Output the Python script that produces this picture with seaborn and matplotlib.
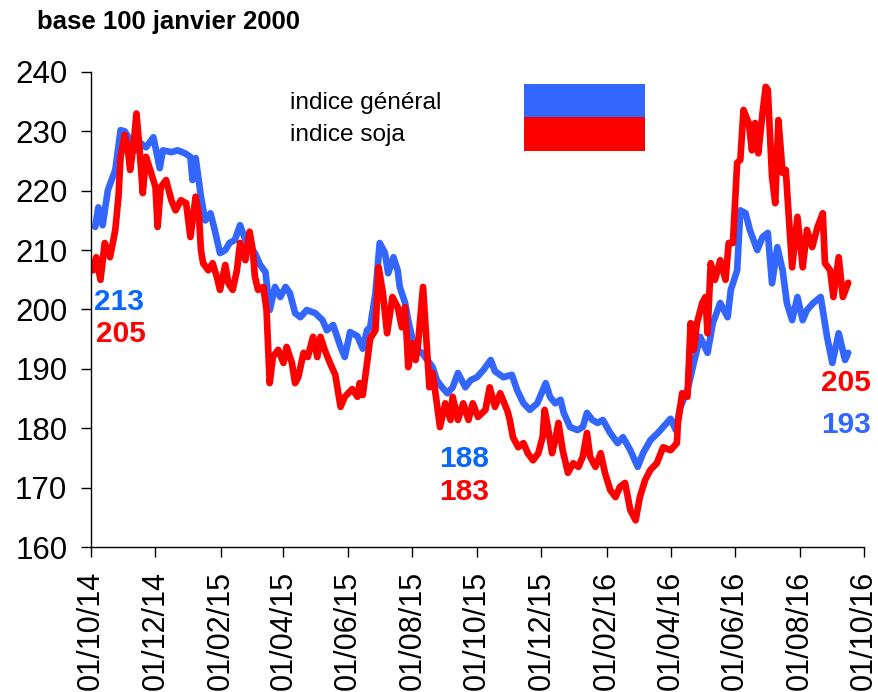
#!/usr/bin/env python3
import matplotlib
matplotlib.use("Agg")
import matplotlib.pyplot as plt
import matplotlib.dates as mdates
from matplotlib.patches import Rectangle
import seaborn as sns
import pandas as pd

# days since 01/10/2014 and index values (base 100 janvier 2000)
gen_days = [4, 7, 11, 16, 23, 28, 32, 37, 42, 47, 52, 59, 61, 65, 68, 76, 82, 89, 94, 96,
            99, 104, 108, 113, 117, 122, 127, 131, 136, 141, 146, 150, 155, 160, 165, 169,
            174, 179, 184, 188, 193, 198, 204, 212, 219, 223, 229, 236, 240, 245, 252, 257,
            261, 264, 269, 273, 278, 281, 286, 290, 292, 297, 300, 304, 308, 313, 318, 323,
            327, 332, 337, 342, 347, 354, 359, 365, 371, 378, 382, 390, 398, 403, 409, 415,
            422, 430, 434, 439, 444, 447, 453, 460, 465, 469, 474, 479, 484, 491, 498, 503,
            510, 517, 522, 529, 536, 541, 548, 553, 557, 564, 570, 576, 583, 588, 595, 602,
            605, 611, 614, 619, 623, 630, 635, 640, 644, 649, 654, 658, 663, 668, 673, 677,
            683, 690, 696, 701, 707, 713, 716]
gen_vals = [213.9, 217.2, 214.2, 220.1, 223.5, 230.2, 230.0, 228.5, 226.8, 228.0, 227.3,
            229.0, 227.3, 223.8, 226.8, 226.5, 226.8, 226.3, 225.7, 221.8, 225.5, 219.0,
            215.0, 216.2, 213.4, 209.5, 210.0, 211.2, 211.7, 214.2, 211.7, 210.5, 209.5,
            207.5, 206.3, 199.9, 203.8, 202.1, 203.8, 202.8, 199.4, 198.7, 199.9, 199.4,
            198.2, 196.5, 197.4, 193.7, 192.0, 196.2, 195.5, 193.4, 196.5, 197.0, 202.8,
            211.2, 209.5, 206.1, 208.8, 206.6, 203.8, 201.1, 198.2, 194.9, 193.2, 192.7,
            191.5, 190.3, 188.1, 186.9, 185.9, 186.9, 189.3, 186.9, 188.1, 188.6, 189.8,
            191.5, 189.6, 188.6, 189.0, 186.4, 184.2, 183.1, 184.2, 187.6, 185.3, 184.2,
            184.8, 182.6, 180.2, 179.7, 180.2, 182.6, 181.4, 180.9, 181.4, 179.2, 177.5,
            178.5, 176.3, 173.5, 175.8, 178.0, 179.2, 180.2, 181.6, 179.7, 183.4, 186.4,
            191.0, 195.4, 192.7, 197.7, 201.1, 198.7, 203.3, 206.6, 216.7, 216.2, 213.4,
            210.0, 212.2, 212.9, 204.4, 210.5, 206.6, 201.1, 198.2, 202.1, 198.2, 199.9,
            201.1, 202.1, 195.4, 191.0, 196.0, 191.5, 192.7]

soja_days = [2, 5, 9, 13, 18, 23, 26, 28, 32, 35, 37, 40, 43, 46, 49, 52, 56, 61, 63, 66,
             71, 76, 80, 85, 90, 94, 99, 102, 104, 106, 111, 115, 119, 122, 127, 130, 134,
             138, 141, 146, 150, 153, 155, 158, 163, 166, 169, 172, 177, 182, 185, 190, 193,
             196, 201, 205, 210, 214, 217, 221, 226, 231, 236, 240, 247, 252, 254, 257, 261,
             264, 269, 272, 276, 280, 285, 290, 294, 297, 300, 304, 307, 309, 314, 318, 320,
             323, 325, 330, 335, 340, 342, 347, 352, 357, 361, 366, 373, 377, 382, 387, 394,
             396, 399, 404, 409, 413, 418, 423, 427, 429, 432, 436, 439, 442, 446, 451, 456,
             461, 465, 469, 472, 477, 482, 486, 491, 496, 500, 505, 510, 515, 519, 524, 529,
             535, 541, 548, 554, 555, 559, 564, 567, 570, 573, 578, 581, 583, 586, 590, 595,
             600, 603, 607, 611, 614, 617, 622, 625, 628, 631, 635, 638, 640, 644, 647, 650,
             654, 657, 659, 663, 668, 673, 677, 682, 687, 692, 694, 699, 702, 707, 711, 716]
soja_vals = [206.6, 208.8, 205.0, 211.2, 208.8, 213.4, 219.0, 225.7, 229.4, 226.8, 223.5,
             227.3, 233.0, 226.8, 219.6, 225.7, 223.5, 220.6, 213.9, 220.6, 221.8, 218.4,
             216.7, 218.4, 217.9, 212.2, 219.0, 216.0, 210.0, 207.8, 206.6, 207.8, 205.5,
             203.3, 207.5, 204.4, 203.3, 206.6, 211.2, 208.3, 213.1, 210.0, 205.5, 203.3,
             203.8, 199.9, 187.6, 192.0, 193.2, 191.0, 193.7, 191.0, 187.6, 188.6, 192.7,
             192.0, 195.4, 192.0, 195.4, 193.2, 191.0, 189.0, 183.6, 185.3, 186.6, 185.3,
             187.6, 185.6, 190.9, 195.1, 196.5, 207.1, 202.8, 196.0, 202.1, 200.4, 197.0,
             200.4, 190.3, 194.3, 191.5, 193.7, 203.8, 192.7, 186.9, 189.3, 186.9, 180.2,
             184.2, 181.4, 185.3, 181.4, 184.2, 181.4, 184.2, 181.9, 183.1, 186.9, 183.6,
             185.9, 182.8, 181.4, 178.5, 176.8, 177.5, 175.8, 174.6, 175.8, 178.5, 183.1,
             180.2, 175.8, 178.0, 180.9, 176.3, 172.5, 174.1, 173.5, 175.2, 179.2, 175.2,
             173.5, 175.8, 172.5, 169.6, 168.4, 170.1, 170.8, 166.2, 164.5, 168.4, 171.3,
             173.0, 174.1, 176.8, 176.3, 177.5, 180.9, 185.9, 185.3, 197.7, 193.2, 197.7,
             201.1, 202.1, 196.0, 207.8, 205.0, 208.3, 205.0, 211.2, 211.2, 224.7, 225.2,
             233.6, 231.4, 226.8, 231.4, 226.3, 233.1, 237.5, 237.0, 222.3, 217.9, 231.9,
             223.0, 223.5, 217.9, 207.1, 215.6, 207.1, 213.4, 210.5, 213.9, 216.2, 207.8,
             206.6, 202.1, 208.8, 202.1, 204.5]

series_names = ["indice général", "indice soja"]
series_colors = ["#3366ff", "#ff0000"]

# value labels: (text, day, value, colour)
label_texts = ["213", "205", "188", "183", "205", "193"]
label_days = [3, 5, 329, 329, 690, 690]
label_vals = [201.3, 195.8, 174.8, 169.3, 187.6, 180.5]
label_colors = ["#0a66ff", "#ff0000", "#0a66ff", "#ff0000", "#ff0000", "#3366ff"]

start = pd.Timestamp("2014-10-01")
tick_dates = pd.date_range("2014-10-01", "2016-10-01", freq="2MS")

gen = pd.DataFrame({"date": start + pd.to_timedelta(gen_days, unit="D"), "value": gen_vals})
soja = pd.DataFrame({"date": start + pd.to_timedelta(soja_days, unit="D"), "value": soja_vals})

sns.set_style("ticks")
plt.rcParams["font.family"] = ["Liberation Sans", "DejaVu Sans"]
plt.rcParams["text.color"] = "black"
plt.rcParams["xtick.color"] = "black"
plt.rcParams["ytick.color"] = "black"

fig = plt.figure(figsize=(8.79, 6.92), dpi=100)
ax = fig.add_axes([0.1035, 0.2095, 0.8795, 0.6865])

for df, col in [(gen, series_colors[0]), (soja, series_colors[1])]:
    sns.lineplot(data=df, x="date", y="value", color=col, lw=4.8, ax=ax,
                 solid_joinstyle="round", solid_capstyle="round")

ax.set_xlim(tick_dates[0], tick_dates[-1])
ax.set_ylim(160, 240)
ax.set_yticks(range(160, 241, 10))
ax.set_xticks(tick_dates)
ax.xaxis.set_major_formatter(mdates.DateFormatter("%d/%m/%y"))
ax.tick_params(axis="x", labelsize=22, rotation=90, length=7, width=1, pad=10,
               colors="black")
ax.tick_params(axis="y", labelsize=22.5, length=7, width=1, pad=10, colors="black")
ax.set_xlabel("")
ax.set_ylabel("")
for s in ["top", "right"]:
    ax.spines[s].set_visible(False)
for s in ["left", "bottom"]:
    ax.spines[s].set_color("black")
    ax.spines[s].set_linewidth(1)

for t, d, v, c in zip(label_texts, label_days, label_vals, label_colors):
    ax.text(start + pd.Timedelta(days=d), v, t, color=c, fontsize=21.5,
            fontweight="bold", va="center", ha="left")

fig.text(0.042, 0.968, "base 100 janvier 2000", fontsize=18.5, fontweight="bold",
         va="center", ha="left", color="black")

# legend: labels on the left, colour blocks stacked on the right
fig.text(0.330, 0.851, series_names[0], fontsize=17.6, va="center", ha="left",
         color="black")
fig.text(0.330, 0.805, series_names[1], fontsize=17.6, va="center", ha="left",
         color="black")
fig.add_artist(Rectangle((0.596, 0.831), 0.138, 0.048, transform=fig.transFigure,
                         color=series_colors[0], lw=0))
fig.add_artist(Rectangle((0.596, 0.782), 0.138, 0.049, transform=fig.transFigure,
                         color=series_colors[1], lw=0))

fig.savefig("out.png", dpi=100)
